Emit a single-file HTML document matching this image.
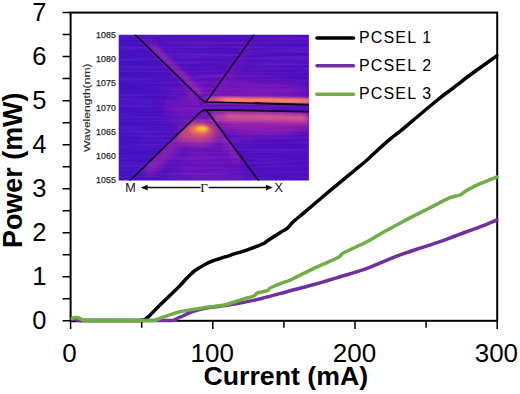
<!DOCTYPE html>
<html><head><meta charset="utf-8">
<style>
html,body{margin:0;padding:0;background:#fff;}
body{width:520px;height:394px;overflow:hidden;position:relative;font-family:"Liberation Sans",sans-serif;}
svg{position:absolute;left:0;top:0;}
text{font-family:"Liberation Sans",sans-serif;}
</style></head><body>
<svg width="520" height="394" viewBox="0 0 520 394">
<defs>
<filter id="b1" filterUnits="userSpaceOnUse" x="90" y="10" width="250" height="200"><feGaussianBlur stdDeviation="1.2"/></filter>
<filter id="b2" filterUnits="userSpaceOnUse" x="90" y="10" width="250" height="200"><feGaussianBlur stdDeviation="2.5"/></filter>
<filter id="b4" filterUnits="userSpaceOnUse" x="90" y="10" width="250" height="200"><feGaussianBlur stdDeviation="4.5"/></filter>
<filter id="b8" filterUnits="userSpaceOnUse" x="90" y="10" width="250" height="200"><feGaussianBlur stdDeviation="9"/></filter>
<linearGradient id="bg" x1="0" y1="0" x2="1" y2="0">
<stop offset="0" stop-color="#4011c2"/><stop offset="0.45" stop-color="#4e10be"/><stop offset="1" stop-color="#490ec0"/>
</linearGradient>
<linearGradient id="og" gradientUnits="userSpaceOnUse" x1="210" y1="0" x2="311" y2="0"><stop offset="0" stop-color="#d8587e" stop-opacity="0.3"/><stop offset="0.16" stop-color="#f78664"/><stop offset="0.85" stop-color="#f78664"/><stop offset="1" stop-color="#e8707a"/></linearGradient>
<clipPath id="cone"><path d="M129 181.5 L204.5 109.8 L259.3 181.5 Z"/></clipPath>
<filter id="tx" filterUnits="userSpaceOnUse" x="118" y="34" width="192" height="148">
<feTurbulence type="fractalNoise" baseFrequency="0.012 0.45" numOctaves="2" seed="7" result="n"/>
<feColorMatrix in="n" type="matrix" values="0 0 0 0 0.62  0 0 0 0 0.12  0 0 0 0 0.72  1.6 0 0 0 -0.62"/>
</filter>
<clipPath id="ic"><rect x="118.7" y="34.8" width="190.2" height="145.6"/></clipPath>
</defs>
<rect width="520" height="394" fill="#fff"/>

<!-- inset heat map -->
<g clip-path="url(#ic)">
<rect x="118" y="34" width="192" height="148" fill="url(#bg)"/>
<!-- broad glows -->
<ellipse cx="240" cy="107" rx="72" ry="30" fill="#7c12b8" opacity="0.6" filter="url(#b8)"/>
<ellipse cx="268" cy="123" rx="52" ry="10" fill="#a424ac" opacity="0.75" filter="url(#b4)"/>
<ellipse cx="262" cy="91" rx="50" ry="7" fill="#8418b8" opacity="0.6" filter="url(#b4)"/>
<ellipse cx="182" cy="106" rx="20" ry="4" fill="#7a14b8" opacity="0.6" filter="url(#b4)"/>
<!-- upper cone streaks -->
<path d="M142 36 L206 99" stroke="#8a1cb4" stroke-width="7" opacity="0.6" fill="none" filter="url(#b4)"/>
<path d="M152 46 L199 92" stroke="#c03aa4" stroke-width="2.6" opacity="0.8" fill="none" filter="url(#b2)"/>
<path d="M250 46 L214 97" stroke="#8418b8" stroke-width="8" opacity="0.55" fill="none" filter="url(#b4)"/>
<path d="M186 92 L198 103" stroke="#b030a4" stroke-width="2.5" opacity="0.6" fill="none" filter="url(#b2)"/>
<!-- lower cone -->
<g clip-path="url(#cone)">
<path d="M204 112 L166 181 L246 181 Z" fill="#8418b8" opacity="0.5" filter="url(#b8)"/>
<path d="M213 118 L240 162" stroke="#b030a8" stroke-width="7" opacity="0.7" fill="none" filter="url(#b4)"/>
<path d="M192 126 L146 172" stroke="#a828a8" stroke-width="13" opacity="0.7" fill="none" filter="url(#b4)"/>
<ellipse cx="197" cy="133" rx="21" ry="10" fill="#cc4a7c" opacity="0.95" filter="url(#b4)"/>
</g>
<ellipse cx="196" cy="131" rx="17" ry="7" fill="#c8467c" opacity="0.45" filter="url(#b4)"/>
<!-- lower band glow -->
<path d="M212 117 L309 119" stroke="#c04494" stroke-width="8" opacity="0.9" fill="none" filter="url(#b2)"/>
<path d="M226 116 L306 117.6" stroke="#ea7078" stroke-width="3.6" opacity="0.9" fill="none" filter="url(#b2)"/>
<!-- upper bright band -->
<path d="M207 100 L309 101.2" stroke="#c8468a" stroke-width="6.5" opacity="0.9" fill="none" filter="url(#b1)"/>
<path d="M212 99.7 L311 101" stroke="url(#og)" stroke-width="4.8" fill="none" filter="url(#b1)"/>
<!-- hotspot -->
<ellipse cx="200" cy="129.5" rx="10.5" ry="4.6" fill="#f58a48" filter="url(#b2)"/>
<ellipse cx="202" cy="128.8" rx="5.8" ry="2.5" fill="#fdc530" filter="url(#b1)"/>
<!-- gap between bands -->
<path d="M209 106 L311 108" stroke="#4c10c0" stroke-width="3.6" stroke-linecap="round" fill="none" filter="url(#b1)"/>
<!-- streak texture -->
<rect x="118" y="34" width="192" height="148" filter="url(#tx)" opacity="0.24"/>
<!-- black band lines -->
<g stroke="#0c0420" fill="none" stroke-linejoin="round" stroke-linecap="round">
<path stroke-width="1.6" d="M134.5 34 L200 98 Q203.5 101.6 206 102 L260 103.3"/><path stroke-width="2" d="M255 103.2 L309 104.7"/>
<path stroke-width="1.4" d="M254.5 34 L208.5 98.5 Q206.5 101.6 204.5 102"/>
<path stroke-width="1.7" d="M129 181.5 L199 113.5 Q202.5 110 205 109.8 L309 111.6"/>
<path stroke-width="1.6" d="M259.3 181.5 L208.5 113 Q206.5 110.2 204 109.8"/>
</g>
</g>
<!-- inset labels -->
<g font-size="8.8" fill="#2a2a2a" stroke="#2a2a2a" stroke-width="0.25" text-anchor="end" letter-spacing="0.15">
<text x="116.1" y="38.0">1085</text>
<text x="116.1" y="62.2">1080</text>
<text x="116.1" y="86.4">1075</text>
<text x="116.1" y="110.6">1070</text>
<text x="116.1" y="134.8">1065</text>
<text x="116.1" y="159.0">1060</text>
<text x="116.1" y="183.2">1055</text>
</g>
<text transform="translate(90.2,107.7) rotate(-90) scale(1.213,0.86)" font-size="10" fill="#2a2a2a" stroke="#2a2a2a" stroke-width="0.15" text-anchor="middle">Wavelength(nm)</text>
<text x="125.3" y="192.4" font-size="12.6" fill="#111">M</text>
<text x="274.6" y="192.4" font-size="12.6" fill="#111">X</text>
<text x="200.2" y="192.4" font-size="13.2" fill="#111" style="font-family:'Liberation Serif',serif">&#915;</text>
<g stroke="#111" stroke-width="1.5" fill="#111">
<line x1="146" y1="187.6" x2="200.6" y2="187.6"/>
<path d="M140.8 187.6 L147.6 184.7 L147.6 190.5 Z" stroke="none"/>
<line x1="208.6" y1="187.6" x2="267.6" y2="187.6"/>
<path d="M272.8 187.6 L266 184.7 L266 190.5 Z" stroke="none"/>
</g>

<!-- axes -->
<g stroke="#000" stroke-width="2" fill="none">
<rect x="70.6" y="12.6" width="426.6" height="308.2"/>
</g>
<g stroke="#000" stroke-width="1.5">
<path d="M62.6 12.6H70.6 M62.6 34.6H70.6 M62.6 56.6H70.6 M62.6 78.6H70.6 M62.6 100.7H70.6 M62.6 122.7H70.6 M62.6 144.7H70.6 M62.6 166.7H70.6 M62.6 188.7H70.6 M62.6 210.7H70.6 M62.6 232.7H70.6 M62.6 254.8H70.6 M62.6 276.8H70.6 M62.6 298.8H70.6 M62.6 320.8H70.6"/>
<path d="M70.6 320.8V329.0 M141.7 320.8V327.8 M212.8 320.8V329.0 M283.9 320.8V327.8 M355.0 320.8V329.0 M426.1 320.8V327.8 M497.2 320.8V329.0"/>
</g>
<!-- data curves -->
<g fill="none" stroke-linejoin="round" stroke-linecap="round" stroke-width="3.5">
<path stroke="#000" d="M72.3 320.4 C82.9 320.4 124.5 320.4 136.0 320.4 C147.4 320.4 139.5 320.4 141.0 320.2 C142.5 320.0 143.5 320.0 145.0 319.2 C146.5 318.4 147.5 317.6 150.0 315.2 C152.5 312.8 156.2 308.7 160.0 305.0 C163.8 301.3 169.2 296.2 172.5 293.0 C175.8 289.8 177.5 288.2 180.0 285.6 C182.5 283.0 185.0 280.0 187.5 277.5 C190.0 275.0 192.1 272.7 195.0 270.5 C197.9 268.3 202.1 266.1 205.0 264.5 C207.9 262.9 208.3 262.5 212.5 261.0 C216.7 259.5 224.2 257.2 230.0 255.3 C235.8 253.4 242.1 251.7 247.5 249.8 C252.9 247.9 259.2 245.5 262.5 244.0 C265.8 242.5 264.6 242.7 267.5 240.8 C270.4 238.9 276.7 234.8 280.0 232.7 C283.3 230.6 285.4 229.9 287.5 228.2 C289.6 226.5 289.6 225.2 292.5 222.5 C295.4 219.8 298.8 217.1 305.0 211.8 C311.2 206.5 321.7 197.7 330.0 190.7 C338.3 183.7 348.8 175.1 355.0 170.0 C361.2 164.9 363.2 163.3 367.0 160.0 C370.8 156.7 373.5 153.8 377.5 150.2 C381.5 146.6 387.4 141.3 391.2 138.2 C394.9 135.0 395.2 135.2 400.0 131.3 C404.8 127.4 413.8 119.7 420.0 114.5 C426.2 109.3 433.3 103.4 437.5 100.0 C441.7 96.6 442.6 95.8 445.0 94.0 C447.4 92.2 449.9 90.5 452.0 89.0 C454.1 87.5 454.5 87.0 457.5 84.7 C460.5 82.4 463.4 79.8 470.0 75.0 C476.6 70.2 492.3 59.0 496.8 55.8"/>
<path stroke="#7030a0" d="M72.3 319.3 C72.6 319.2 73.0 318.5 74.0 318.6 C75.0 318.8 75.3 319.9 78.0 320.2 C80.7 320.5 75.0 320.4 90.0 320.4 C105.0 320.4 154.0 320.5 168.0 320.4 C182.0 320.3 172.0 320.4 174.0 319.9 C176.0 319.4 176.9 318.6 180.0 317.2 C183.1 315.8 188.3 313.1 192.5 311.6 C196.7 310.1 199.6 309.3 205.0 308.3 C210.4 307.3 218.8 306.6 225.0 305.6 C231.2 304.7 236.2 303.8 242.5 302.6 C248.8 301.4 255.4 299.9 262.5 298.2 C269.6 296.5 280.4 293.4 285.0 292.2 C289.6 291.0 285.0 292.1 290.0 290.8 C295.0 289.5 306.7 286.5 315.0 284.2 C323.3 281.9 331.7 279.3 340.0 276.8 C348.3 274.3 356.7 272.2 365.0 269.2 C373.3 266.2 384.2 261.3 390.0 258.9 C395.8 256.5 395.0 256.7 400.0 254.9 C405.0 253.1 413.3 250.4 420.0 248.2 C426.7 246.0 434.2 243.7 440.0 241.7 C445.8 239.7 448.3 238.5 455.0 236.0 C461.7 233.5 473.0 229.5 480.0 226.8 C487.0 224.1 494.0 221.1 496.8 220.0"/>
<path stroke="#70ad47" d="M72.3 318.6 C72.6 318.5 73.3 318.0 74.0 317.8 C74.7 317.6 75.5 317.3 76.5 317.4 C77.5 317.5 78.8 318.1 80.0 318.6 C81.2 319.1 82.3 320.0 84.0 320.3 C85.7 320.6 79.0 320.4 90.0 320.4 C101.0 320.4 139.0 320.5 150.0 320.4 C161.0 320.3 153.5 320.4 156.0 319.7 C158.5 319.0 161.0 317.7 165.0 316.4 C169.0 315.1 173.3 313.3 180.0 311.8 C186.7 310.3 197.5 308.8 205.0 307.6 C212.5 306.4 218.8 306.2 225.0 304.8 C231.2 303.4 237.7 300.8 242.5 299.3 C247.3 297.8 251.2 297.1 253.7 296.0 C256.2 294.9 255.2 293.9 257.5 293.0 C259.8 292.1 265.2 291.4 267.5 290.5 C269.8 289.6 268.1 288.9 271.0 287.5 C273.9 286.1 281.8 283.0 285.0 281.8 C288.2 280.6 285.0 282.5 290.0 280.2 C295.0 277.9 307.1 271.5 315.0 267.8 C322.9 264.1 332.7 260.3 337.5 257.8 C342.3 255.3 339.1 255.3 343.7 252.8 C348.3 250.3 358.9 245.9 365.0 242.8 C371.1 239.7 373.3 237.9 380.0 234.2 C386.7 230.5 396.7 224.9 405.0 220.5 C413.3 216.1 422.5 211.6 430.0 207.8 C437.5 204.0 445.0 199.8 450.0 197.7 C455.0 195.6 457.1 196.3 460.0 195.0 C462.9 193.7 464.2 191.9 467.5 190.0 C470.8 188.1 475.1 185.9 480.0 183.7 C484.9 181.5 494.0 178.1 496.8 177.0"/>
</g>
<!-- y tick labels -->
<g font-size="25.5" fill="#000" text-anchor="end">
<text x="46.4" y="21.2">7</text>
<text x="46.4" y="65.2">6</text>
<text x="46.4" y="109.3">5</text>
<text x="46.4" y="153.3">4</text>
<text x="46.4" y="197.3">3</text>
<text x="46.4" y="241.3">2</text>
<text x="46.4" y="285.4">1</text>
<text x="46.4" y="329.4">0</text>
</g>
<g font-size="26" fill="#000" text-anchor="middle">
<text x="69.6" y="362.2">0</text>
<text x="212.3" y="362.2">100</text>
<text x="354.5" y="362.2">200</text>
<text x="496.4" y="362.2">300</text>
</g>
<text x="285.8" y="385.2" font-size="25.5" font-weight="bold" text-anchor="middle" textLength="164.5" lengthAdjust="spacingAndGlyphs">Current (mA)</text>
<text transform="translate(21.9,170.3) rotate(-90)" font-size="27.5" font-weight="bold" text-anchor="middle" textLength="155.5" lengthAdjust="spacingAndGlyphs">Power (mW)</text>

<!-- legend -->
<g stroke-width="3.6" stroke-linecap="round">
<line x1="317" y1="38" x2="353.5" y2="38" stroke="#000"/>
<line x1="317" y1="65.8" x2="353.5" y2="65.8" stroke="#7030a0"/>
<line x1="317" y1="94.2" x2="353.5" y2="94.2" stroke="#70ad47"/>
</g>
<g font-size="16" fill="#000" letter-spacing="1.15">
<text x="359" y="42.6">PCSEL 1</text>
<text x="359" y="70.6">PCSEL 2</text>
<text x="359" y="99">PCSEL 3</text>
</g>
</svg>
</body></html>
